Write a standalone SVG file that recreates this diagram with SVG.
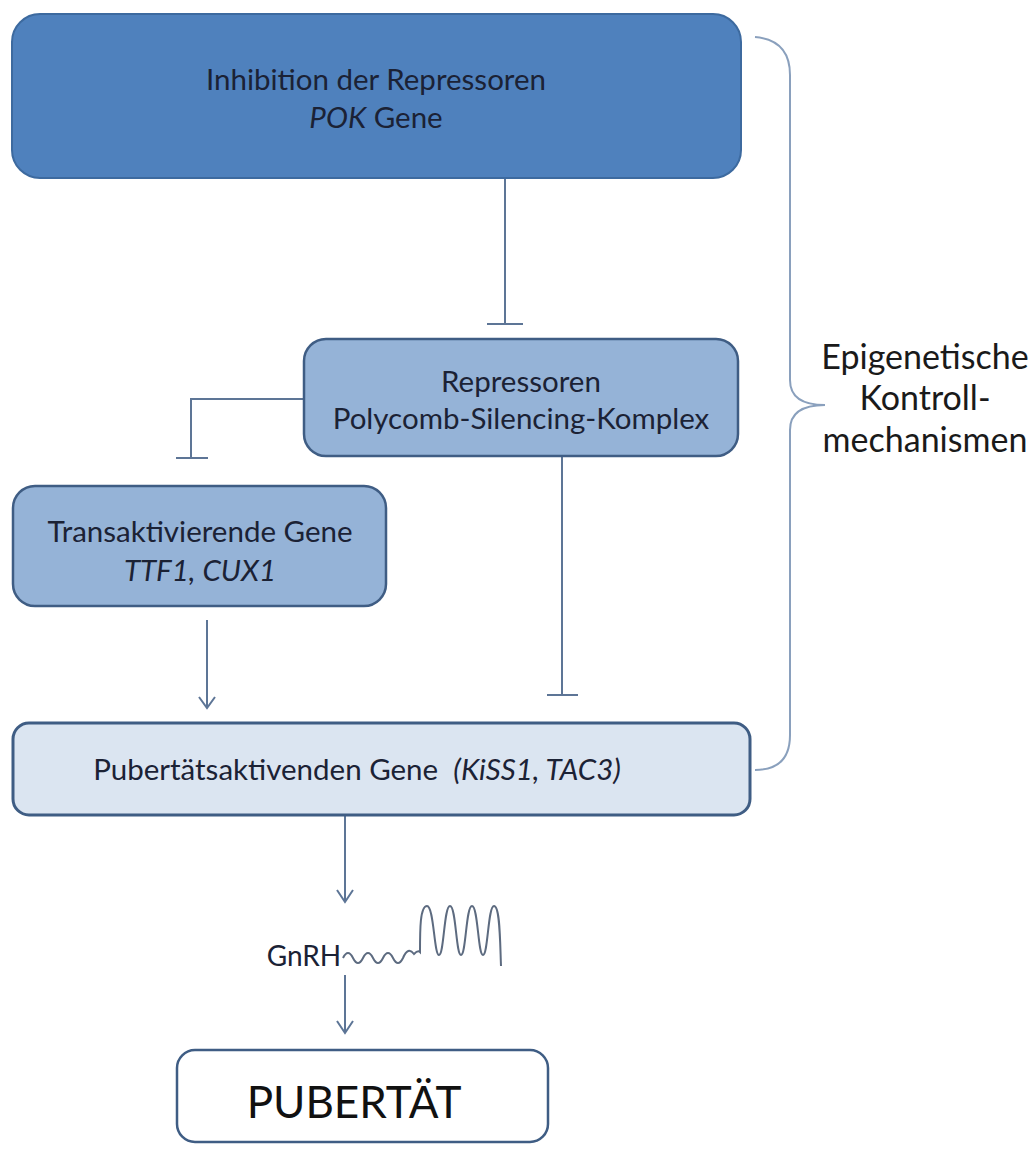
<svg xmlns="http://www.w3.org/2000/svg" width="1035" height="1149" viewBox="0 0 1035 1149">
<defs>
<style>
.t{font-family:Lato,"Liberation Sans",sans-serif;fill:#1b2235;text-anchor:middle}
.b{font-size:29.5px}
.c{fill:none;stroke:#5d7596;stroke-width:2}
.it{font-style:italic}
.lab{font-size:34px;fill:#1a1a1a}
</style>
</defs>
<rect width="1035" height="1149" fill="#ffffff"/>
<g id="connectors">
<path class="c" d="M505,178 V324 M487,324 H523"/>
<path class="c" d="M304,399 H191 V458 M176,458 H208"/>
<path class="c" d="M562,456 V695 M547,695 H578"/>
<path class="c" d="M207,620 V707"/>
<path d="M199,697 L207,708 L215,697" fill="none" stroke="#5d7596" stroke-width="2"/>
<path class="c" d="M345,815 V901"/>
<path d="M337,890 L345,902 L353,890" fill="none" stroke="#5d7596" stroke-width="2"/>
<path class="c" d="M345,975 V1032"/>
<path d="M337,1021 L345,1033 L353,1021" fill="none" stroke="#5d7596" stroke-width="2"/>
<path d="M755,37 Q790,40 790,75 V380 Q790,405 825,405 Q790,405 790,430 V735 Q790,770 755,770" fill="none" stroke="#8aa0bd" stroke-width="2"/>
</g>
<g id="n-top">
<rect x="12" y="14" width="729" height="164" rx="28" fill="#4f81bd" stroke="#3d6a9f" stroke-width="2"/>
<text class="t b" x="376" y="90">Inhibition der Repressoren</text>
<text class="t b" x="376" y="128"><tspan class="it">POK</tspan> Gene</text>
</g>
<g id="n-mid">
<rect x="304" y="339" width="434" height="117" rx="22" fill="#95b3d7" stroke="#3f5d84" stroke-width="2.5"/>
<text class="t b" x="521" y="392">Repressoren</text>
<text class="t b" x="521" y="429">Polycomb-Silencing-Komplex</text>
</g>
<g id="n-left">
<rect x="13" y="486" width="373" height="120" rx="22" fill="#95b3d7" stroke="#3f5d84" stroke-width="2.5"/>
<text class="t b" x="200" y="542">Transaktivierende Gene</text>
<text class="t b it" x="200" y="581">TTF1, CUX1</text>
</g>
<g id="n-bottom">
<rect x="13" y="723" width="737" height="92" rx="16" fill="#dbe5f1" stroke="#3f5d84" stroke-width="3"/>
<text class="t b" x="357" y="780">Pubertätsaktivenden Gene &#160;<tspan class="it">(KiSS1, TAC3)</tspan></text>
</g>
<g id="n-gnrh">
<text class="t" style="font-size:28px" x="304" y="966">GnRH</text>
<path d="M343,958 q5,-10 10,0 q5,10 10,0 q5,-10 10,0 q5,10 10,0 q5,-10 10,0 q5,10 10,0 q5,-12 11,-4 q4,-4 6,-2 C420,930 420,906 427,906 C434,906 434,955 439,955 C444,955 444,906 450,906 C456,906 456,955 461,955 C466,955 466,906 472,906 C478,906 478,955 483,955 C488,955 488,906 494,906 C500,906 500,940 501,966" fill="none" stroke="#5d6b80" stroke-width="2"/>
</g>
<g id="n-pubertaet">
<rect x="177" y="1050" width="371" height="92" rx="18" fill="#ffffff" stroke="#3f5d84" stroke-width="2.5"/>
<text class="t" style="font-size:44px;fill:#111" x="354" y="1118">PUBERTÄT</text>
</g>
<g id="n-label">
<text class="t lab" x="925" y="369">Epigenetische</text>
<text class="t lab" x="925" y="410">Kontroll-</text>
<text class="t lab" x="925" y="452">mechanismen</text>
</g>
</svg>
